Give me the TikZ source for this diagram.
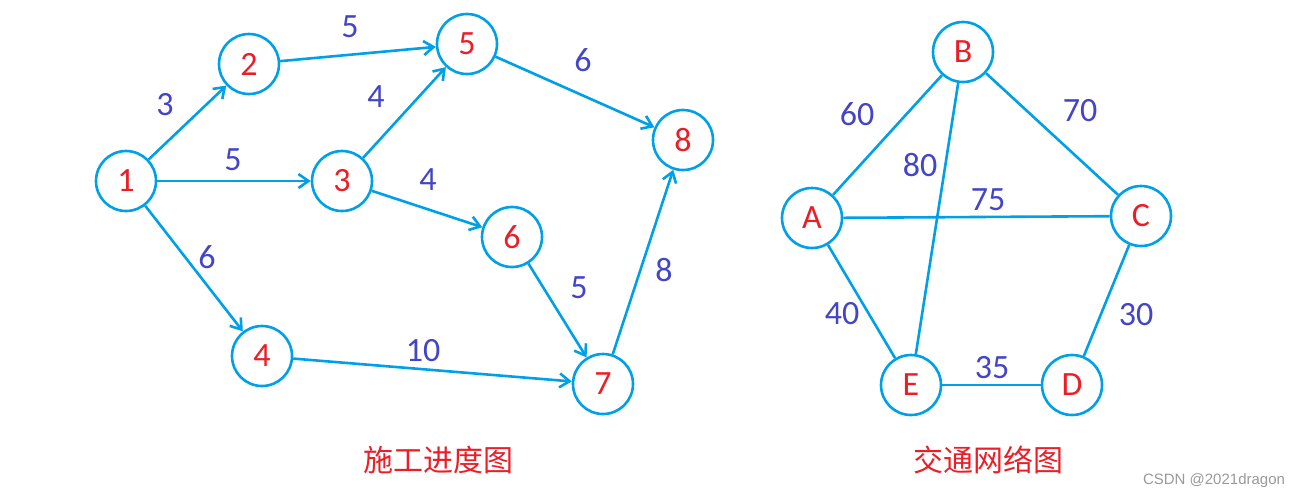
\documentclass[tikz,border=0pt]{standalone}
\usepackage{fontspec}
\setmainfont{Carlito}
\newfontfamily\cjk{Noto Sans CJK SC}
\newfontfamily\wmfont{Liberation Sans}
\usetikzlibrary{arrows.meta}
\definecolor{edgeblue}{RGB}{0,160,233}
\definecolor{numred}{RGB}{235,30,40}
\definecolor{wtblue}{RGB}{68,68,200}

\begin{document}
\begin{tikzpicture}[x=0.5pt, y=-0.5pt,
    vtx/.style={draw=edgeblue, line width=1.3pt, circle, minimum size=30pt, inner sep=0pt, text=numred, font=\fontsize{17}{17}\selectfont},
    wt/.style={text=wtblue, font=\fontsize{17}{17}\selectfont},
    edge/.style={draw=edgeblue, line width=1.3pt},
    title/.style={text=numred, font=\cjk\fontsize{15}{15}\selectfont},
    >={Straight Barb[length=5pt,width=7pt]}
  ]
    \useasboundingbox (0,0) rectangle (1300,499);

    % construction schedule
    \node[vtx] (n1) at (126,181) {1};
    \node[vtx] (n2) at (249,64) {2};
    \node[vtx] (n3) at (342,181) {3};
    \node[vtx] (n4) at (262,356) {4};
    \node[vtx] (n5) at (467,44) {5};
    \node[vtx] (n6) at (512,237) {6};
    \node[vtx] (n7) at (603,384) {7};
    \node[vtx] (n8) at (683,140) {8};

    \draw[edge,->] (n1) -- (n2);
    \draw[edge,->] (n1) -- (n3);
    \draw[edge,->] (n1) -- (n4);
    \draw[edge,->] (n2) -- (n5);
    \draw[edge,->] (n3) -- (n5);
    \draw[edge,->] (n3) -- (n6);
    \draw[edge,->] (n5) -- (n8);
    \draw[edge,->] (n6) -- (n7);
    \draw[edge,->] (n4) -- (n7);
    \draw[edge,->] (n7) -- (n8);

    \node[wt] (w12) at (165,105) {3};
    \node[wt] (w13) at (233,160) {5};
    \node[wt] (w14) at (207,257) {6};
    \node[wt] (w25) at (350,27) {5};
    \node[wt] (w35) at (376,97) {4};
    \node[wt] (w36) at (428,180) {4};
    \node[wt] (w58) at (583,60) {6};
    \node[wt] (w67) at (579,288) {5};
    \node[wt] (w78) at (664,270) {8};
    \node[wt] (w47) at (423,351) {10};

    % traffic network
    \node[vtx] (A) at (812,218) {A};
    \node[vtx] (B) at (963,52) {B};
    \node[vtx] (C) at (1141,216) {C};
    \node[vtx] (D) at (1072,385) {D};
    \node[vtx] (E) at (911,385) {E};

    \draw[edge] (A) -- (B);
    \draw[edge] (B) -- (C);
    \draw[edge] (A) -- (C);
    \draw[edge] (B) -- (E);
    \draw[edge] (A) -- (E);
    \draw[edge] (E) -- (D);
    \draw[edge] (C) -- (D);

    \node[wt] (wab) at (857,114) {60};
    \node[wt] (wbe) at (920,165) {80};
    \node[wt] (wbc) at (1080,111) {70};
    \node[wt] (wac) at (988,200) {75};
    \node[wt] (wae) at (842,314) {40};
    \node[wt] (wcd) at (1136,315) {30};
    \node[wt] (wed) at (992,368) {35};

    \node[title] (t1) at (438,460) {施工进度图};
    \node[title] (t2) at (988,460) {交通网络图};
    \node[text=black!40, font=\wmfont\fontsize{7.5}{7.5}\selectfont] (mark) at (1214,481) {CSDN @2021dragon};
  \end{tikzpicture}
\end{document}
